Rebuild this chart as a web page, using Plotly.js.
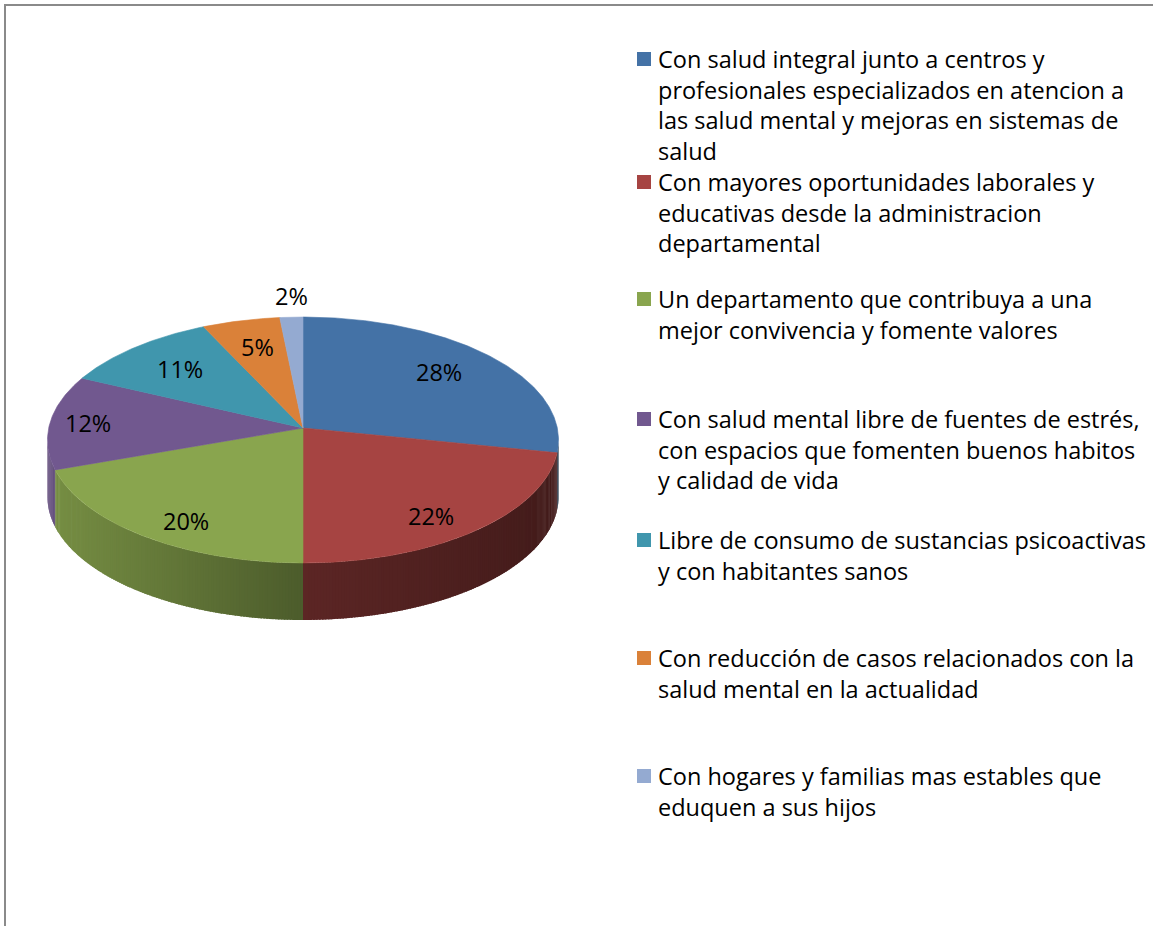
<!DOCTYPE html>
<html>
<head>
<meta charset="utf-8">
<script src="https://cdn.plot.ly/plotly-3.0.1.min.js"></script>
<style>html,body{margin:0;padding:0;background:#fff;}#chart{width:1153px;height:926px;}</style>
</head>
<body>
<div id="chart"></div>
<script>
// ---- data ----
const categories = [
  "Con salud integral junto a centros y<br>profesionales especializados en atencion a<br>las salud mental y mejoras en sistemas de<br>salud",
  "Con mayores oportunidades laborales y<br>educativas desde la administracion<br>departamental",
  "Un departamento que contribuya a una<br>mejor convivencia y fomente valores",
  "Con salud mental libre de fuentes de estrés,<br>con espacios que fomenten buenos habitos<br>y calidad de vida",
  "Libre de consumo de sustancias psicoactivas<br>y con habitantes sanos",
  "Con reducción de casos relacionados con la<br>salud mental en la actualidad",
  "Con hogares y familias mas estables que<br>eduquen a sus hijos"
];
const values = [28.2, 21.8, 19.6, 12.4, 11.0, 5.4, 1.6];
const pctLabels = ["28%", "22%", "20%", "12%", "11%", "5%", "2%"];

// ---- style ----
const colors = [[68,114,166],[166,68,66],[137,165,78],[113,88,143],[64,150,173],[218,129,57],[148,170,209]];
const labelRadius = [0.72, 0.75, 0.75, 0.85, 0.72, 0.72, 1.0];
const labelLift = [-3, 0, 0, 0, 0, -2, -21];
const FONT = "'Open Sans', Carlito, Calibri, sans-serif";
const FSIZE = 23.5;

// pie geometry (pixel coordinates of the plotting area)
const CX = 303, CY = 428, A = 254.3, B = 121.8, K = 0.0977, DEPTH = 57;
const legendX = 657;
const legendBase = [67, 190, 307, 427, 548, 666, 784];

function proj(f, deg, dz) {
  const t = deg * Math.PI / 180;
  const u = f * Math.sin(t), v = f * Math.cos(t);
  const d = 1 + K * v;
  return [CX + A * u / d, CY - B * v / d + (dz || 0)];
}
function rgb(c, m) {
  return "rgb(" + c.map(x => Math.round(Math.max(0, Math.min(255, x * m)))).join(",") + ")";
}
function shadeAt(x) {
  const pts = [[47, 0.87], [303, 0.555], [558, 0.40]];
  if (x <= pts[0][0]) return pts[0][1];
  if (x >= pts[2][0]) return pts[2][1];
  for (let i = 0; i < 2; i++) {
    if (x <= pts[i + 1][0]) {
      const r = (x - pts[i][0]) / (pts[i + 1][0] - pts[i][0]);
      return pts[i][1] + r * (pts[i + 1][1] - pts[i][1]);
    }
  }
}

const total = values.reduce((a, b) => a + b, 0);
const starts = [], ends = [];
let acc = 0;
values.forEach(v => { starts.push(acc / total * 360); acc += v; ends.push(acc / total * 360); });

const traces = [];
// side walls (only the front-facing part is visible)
const visLo = Math.acos(-K) * 180 / Math.PI, visHi = 360 - visLo;
values.forEach((v, i) => {
  const a1 = Math.max(starts[i], visLo), a2 = Math.min(ends[i], visHi);
  if (a2 <= a1) return;
  const n = Math.max(1, Math.ceil((a2 - a1) / 0.6));
  for (let s = 0; s < n; s++) {
    const t1 = a1 + (a2 - a1) * s / n;
    const t2 = Math.min(a2, a1 + (a2 - a1) * (s + 1) / n + 0.35);
    const xs = [], ys = [];
    const m = 3;
    for (let j = 0; j <= m; j++) { const p = proj(1, t1 + (t2 - t1) * j / m, 0); xs.push(p[0]); ys.push(p[1]); }
    for (let j = m; j >= 0; j--) { const p = proj(1, t1 + (t2 - t1) * j / m, DEPTH); xs.push(p[0]); ys.push(p[1]); }
    xs.push(xs[0]); ys.push(ys[0]);
    const mid = proj(1, (t1 + t2) / 2, 0)[0];
    const col = rgb(colors[i], shadeAt(mid));
    traces.push({type: "scatter", mode: "lines", x: xs, y: ys, fill: "toself", fillcolor: col,
      line: {color: col, width: 0}, hoverinfo: "skip", showlegend: false});
  }
});
// top faces
values.forEach((v, i) => {
  const xs = [CX], ys = [CY];
  const n = Math.max(2, Math.ceil((ends[i] - starts[i]) / 0.5));
  for (let j = 0; j <= n; j++) { const p = proj(1, starts[i] + (ends[i] - starts[i]) * j / n, 0); xs.push(p[0]); ys.push(p[1]); }
  xs.push(CX); ys.push(CY);
  const col = rgb(colors[i], 1);
  traces.push({type: "scatter", mode: "lines", x: xs, y: ys, fill: "toself", fillcolor: col,
    line: {color: col, width: 0.6}, hoverinfo: "skip", showlegend: false, name: categories[i].replace(/<br>/g, " ")});
});

const annotations = [];
const shapes = [];
// slice labels
values.forEach((v, i) => {
  const mid = (starts[i] + ends[i]) / 2;
  const t = mid * Math.PI / 180;
  let p = proj(labelRadius[i], mid, 0);
  const vv = Math.cos(t);
  if (vv < 0 && labelRadius[i] < 1) p[1] += DEPTH * 0.3 * (-vv);
  p[1] += labelLift[i];
  annotations.push({x: p[0], y: p[1], xref: "x", yref: "y", text: pctLabels[i], showarrow: false,
    font: {family: FONT, size: FSIZE, color: "#000"}, xanchor: "center", yanchor: "middle"});
});
// legend
categories.forEach((c, i) => {
  const base = legendBase[i];
  shapes.push({type: "rect", xref: "x", yref: "y", x0: 637, x1: 651, y0: base - 15, y1: base - 1,
    fillcolor: rgb(colors[i], 1), line: {width: 0}});
  annotations.push({x: legendX, y: base - 25, xref: "x", yref: "y", text: c, showarrow: false, align: "left",
    font: {family: FONT, size: FSIZE, color: "#000"}, xanchor: "left", yanchor: "top", borderpad: 0});
});
// frame
shapes.push({type: "line", xref: "x", yref: "y", x0: 4, x1: 1153, y0: 5, y1: 5, line: {color: "#8a8a8a", width: 2}});
shapes.push({type: "line", xref: "x", yref: "y", x0: 5, x1: 5, y0: 4, y1: 926, line: {color: "#8a8a8a", width: 2}});

const layout = {
  width: 1153, height: 926,
  margin: {l: 0, r: 0, t: 0, b: 0, pad: 0},
  paper_bgcolor: "#fff", plot_bgcolor: "#fff",
  showlegend: false,
  xaxis: {range: [0, 1153], visible: false, fixedrange: true},
  yaxis: {range: [926, 0], visible: false, fixedrange: true},
  annotations: annotations, shapes: shapes
};
Plotly.newPlot("chart", traces, layout, {displayModeBar: false, staticPlot: true});
</script>
</body>
</html>
